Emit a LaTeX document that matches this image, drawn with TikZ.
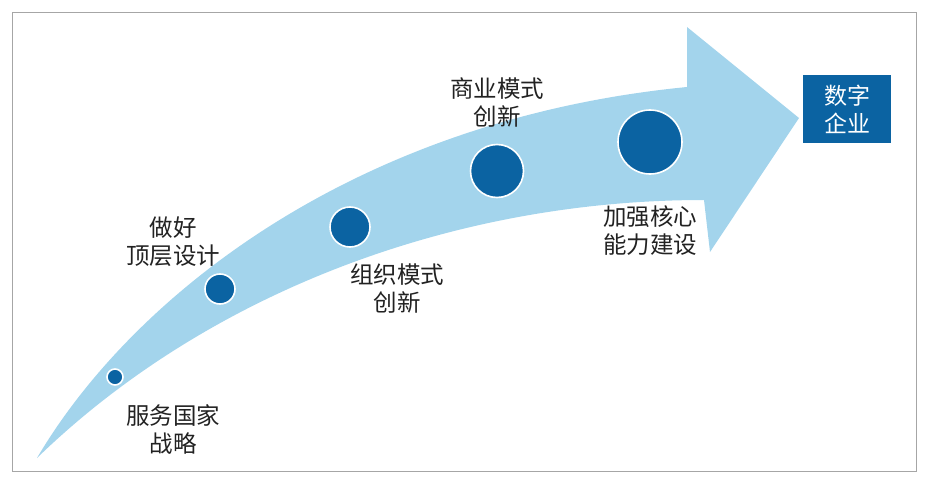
\documentclass[tikz,border=0pt]{standalone}
\usepackage{fontspec}
\newfontfamily\cjk{Noto Sans CJK SC}
\usepackage{xcolor}
\usetikzlibrary{positioning}
\definecolor{arrowblue}{HTML}{A3D4EC}
\definecolor{dotblue}{HTML}{0B63A2}
\definecolor{framegray}{HTML}{A6A6A6}
\definecolor{textgray}{HTML}{222222}
\tikzset{
  stage/.style={circle, fill=dotblue, draw=white, line width=1.6pt, inner sep=0pt},
  stagelabel/.style={align=center, text=textgray, inner sep=0pt, font=\cjk\fontsize{23.5}{28}\selectfont},
  goalbox/.style={fill=dotblue, text=white, align=center, inner sep=0pt, minimum width=88pt, minimum height=68pt, font=\cjk\fontsize{23}{28}\selectfont}
}
\begin{document}
\begin{tikzpicture}[x=1pt, y=-1pt]
  \useasboundingbox (0,0) rectangle (929,484);
  \draw[framegray, line width=1pt] (12.5,13) rectangle (916,471);
  % curved arrow
  \fill[arrowblue] (37,458) .. controls (130,300) and (350,120) .. (687,87)
    -- (687,27) -- (799,118) -- (710,252) -- (704,200)
    .. controls (450,200) and (205,295) .. (37,458) -- cycle;
  % stages along the arrow
  \foreach \n/\x/\y/\r in {s1/115/377/8, s2/220/289/15, s3/350/227/20, s4/497/171/26.5, s5/650/142/32}{
    \node[stage, minimum size=2*\r pt] (\n) at (\x,\y) {};
  }
  \node[stagelabel] (l1) at (173,429) {服务国家\\战略};
  \node[stagelabel] (l2) at (173,242) {做好\\顶层设计};
  \node[stagelabel] (l3) at (397,289) {组织模式\\创新};
  \node[stagelabel] (l4) at (497,102) {商业模式\\创新};
  \node[stagelabel] (l5) at (650,231) {加强核心\\能力建设};
  \node[goalbox] (goal) at (847,109) {数字\\企业};
\end{tikzpicture}
\end{document}
